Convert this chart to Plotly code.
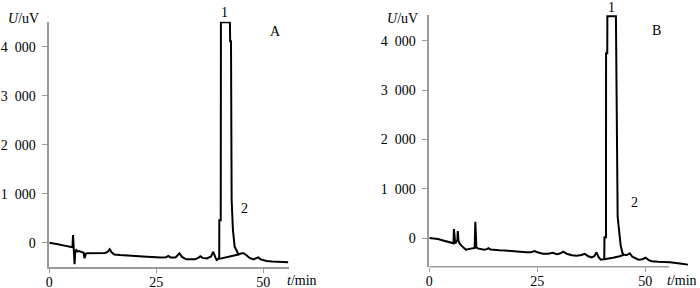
import plotly.graph_objects as go

# ---------------- data ----------------
A_t = [0, 1, 2, 3, 4, 5, 5.4, 5.55, 5.75, 5.9, 6.05, 6.3, 6.6, 7.0, 7.5, 8.0, 8.25, 8.5, 8.8,
       10, 11.5, 13.0, 13.6, 14.1, 14.6, 15.2, 16.5, 18, 19.7, 21, 22.8, 24, 25, 26, 27.3, 27.8,
       28.3, 29.5, 30.4, 31.0, 32, 33, 34, 34.8, 35.3, 35.8, 36.8, 37.8, 38.3, 38.8, 39.1, 39.5,
       39.7, 39.72, 40.05, 40.1, 42.2, 42.25, 42.45, 42.6, 42.9, 43.3, 43.9, 44.2, 44.6, 45.3,
       46, 46.8, 47.7, 48.4, 48.8, 49.4, 50.8, 52, 54, 55.8]
A_v = [0, -10, -30, -50, -65, -80, -95, 155, -100, -440, -200, -150, -180, -170, -190, -200, -320, -230, -215,
       -210, -215, -210, -190, -135, -200, -240, -250, -255, -265, -270, -285, -290, -300, -300, -295, -270,
       -300, -300, -215, -290, -340, -345, -340, -310, -275, -310, -320, -280, -185, -300, -355, -330,
       -300, 460, 460, 4500, 4500, 4110, 4110, 870, 260, -80, -185, -240, -225, -210,
       -250, -310, -340, -320, -300, -340, -375, -385, -395, -400]
A_base_t = [39.7, 41.0, 42.5, 44.2]
A_base_v = [-330, -300, -270, -240]

B_t = [0, 1, 2, 3, 4, 5, 5.6, 5.7, 5.85, 6.0, 6.5, 6.6, 6.75, 7.0, 7.5, 8.0, 8.5, 9.0, 10.1, 10.5,
       10.65, 10.8, 10.9, 11.2, 12.0, 12.7, 13.3, 13.7, 14.2, 15, 16.2, 17.5, 19.3, 21, 22.4, 23.5,
       24.4, 25, 26.3, 27.5, 28.6, 29.5, 30.25, 31.0, 31.8, 33, 34.1, 35.2, 36.0, 36.8, 37.6, 38.2,
       38.7, 39.2, 39.7, 40.5, 40.55, 40.9, 40.92, 41.2, 41.22, 43.2, 43.4, 43.6, 44.0, 44.3, 44.7,
       45.0, 45.7, 46.4, 47.0, 48.4, 49.3, 50.1, 50.8, 51.5, 53, 55.7, 58, 59.9]
B_v = [0, -5, -20, -45, -70, -90, -108, 183, -60, -110, -40, 142, -50, -110, -160, -200, -240, -225, -210, -200,
       331, 100, -190, -210, -230, -240, -225, -205, -235, -245, -250, -255, -270, -285, -290, -290,
       -265, -290, -320, -320, -300, -330, -315, -275, -320, -350, -358, -345, -322, -370, -392, -370,
       -290, -390, -440, -430, 14, 14, 3746, 3746, 4500, 4500, 1785, 432, 95, -150, -300,
       -340, -345, -311, -380, -440, -430, -400, -450, -470, -480, -490, -515, -540]
B_base_t = [40.5, 41.0, 42.5, 44.1, 45.0]
B_base_v = [-430, -425, -400, -370, -340]

y_tickvals = [0, 1000, 2000, 3000, 4000]
y_ticktext = ["0", "1\u2002000", "2\u2002000", "3\u2002000", "4\u2002000"]
x_tickvals = [0, 25, 50]
x_ticktext = ["0", "25", "50"]

# ---------------- figure ----------------
W, H = 700, 288
FONT = "Liberation Serif"
AX = "#9a9a9a"
LINE = dict(color="black", width=2)

fig = go.Figure()
fig.add_trace(go.Scatter(x=A_t, y=A_v, mode="lines", line=LINE, xaxis="x", yaxis="y", showlegend=False))
fig.add_trace(go.Scatter(x=A_base_t, y=A_base_v, mode="lines", line=LINE, xaxis="x", yaxis="y", showlegend=False))
fig.add_trace(go.Scatter(x=B_t, y=B_v, mode="lines", line=LINE, xaxis="x2", yaxis="y2", showlegend=False))
fig.add_trace(go.Scatter(x=B_base_t, y=B_base_v, mode="lines", line=LINE, xaxis="x2", yaxis="y2", showlegend=False))

def px_x(p):
    return p / W

def px_y(p):
    return 1 - p / H

common_x = dict(tickmode="array", tickvals=x_tickvals, ticktext=x_ticktext, ticks="outside",
                ticklen=4, tickcolor=AX, tickwidth=1.2, showgrid=False, zeroline=False,
                automargin=False, ticklabelstandoff=-3,
                tickfont=dict(family=FONT, size=14, color="black"))
common_y = dict(tickmode="array", tickvals=y_tickvals, ticktext=y_ticktext, ticks="outside",
                ticklen=6, tickcolor=AX, tickwidth=1.2, showgrid=False, zeroline=False,
                showline=True, linecolor=AX, linewidth=1.5, automargin=False,
                tickfont=dict(family=FONT, size=14, color="black"), ticklabelstandoff=3)

fig.update_layout(
    width=W, height=H, margin=dict(l=0, r=0, t=0, b=0, pad=0),
    plot_bgcolor="white", paper_bgcolor="white",
    xaxis=dict(domain=[px_x(49.3), px_x(289.0)], range=[0, 56], anchor="y",
               showline=True, linecolor=AX, linewidth=1.5, **common_x),
    yaxis=dict(domain=[px_y(267.0), px_y(21.7)], range=[-496, 4510], anchor="x", **common_y),
    xaxis2=dict(domain=[px_x(429.3), px_x(688.5)], range=[0, 60], anchor="y2",
                showline=False, **common_x),
    yaxis2=dict(domain=[px_y(266.7), px_y(15.0)], range=[-582, 4523], anchor="x2", **common_y),
)

# partial x-axis line of panel B (axis stops before the trace ends)
fig.add_shape(type="line", xref="x2", yref="y2 domain", x0=0, x1=55.5, y0=0, y1=0,
              line=dict(color=AX, width=1.5), layer="below")

def ann(text, x, y, xref="paper", yref="paper", size=14, xanchor="center"):
    fig.add_annotation(text=text, x=x, y=y, xref=xref, yref=yref, showarrow=False,
                       font=dict(family=FONT, size=size, color="black"),
                       xanchor=xanchor, yanchor="middle")

# axis titles
ann("<i>U</i>/uV", px_x(23), px_y(19))
ann("<i>U</i>/uV", px_x(402.5), px_y(19))
ann("<i>t</i>/min", px_x(301.5), px_y(280.5))
ann("<i>t</i>/min", px_x(699), px_y(280.5), xanchor="right")

# peak labels and panel letters
ann("1", px_x(224), px_y(12.5))
ann("2", 45.7, 708, "x", "y")
ann("A", 52.9, 4306, "x", "y")
ann("1", px_x(611), px_y(7.5))
ann("2", 47.4, 716, "x2", "y2")
ann("B", 52.5, 4199, "x2", "y2")

fig.write_html(
    "out.html",
    config={"displayModeBar": False},
    post_script="document.body.style.margin='0';document.body.style.padding='0';"
                "document.body.style.overflow='hidden';",
)
